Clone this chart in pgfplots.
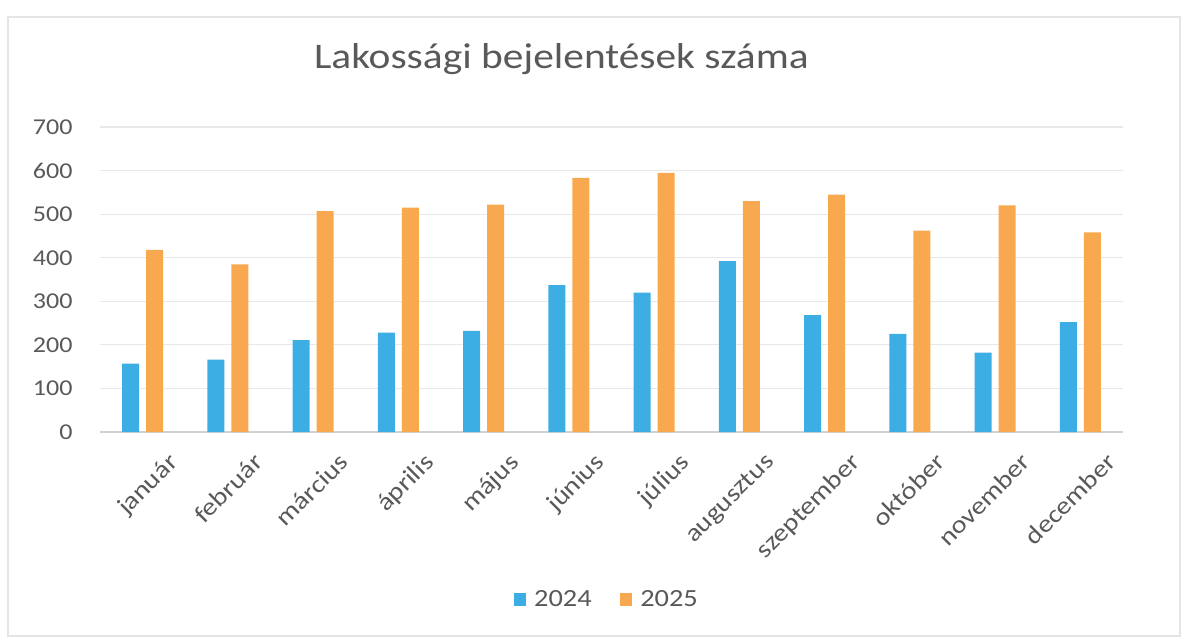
\documentclass[border=0pt]{standalone}
\usepackage{fontspec}
\setmainfont[FakeStretch=1.15]{Carlito}
\usepackage{pgfplots}
\pgfplotsset{compat=1.18}
\definecolor{cblue}{HTML}{3DAEE3}
\definecolor{corange}{HTML}{F8A94F}
\definecolor{tgray}{HTML}{595959}
\definecolor{ggray}{HTML}{E8E8E8}
\begin{document}
\begin{tikzpicture}
\useasboundingbox (0pt,0pt) rectangle (888pt,-479.25pt);
\draw[black!10, line width=0.8pt] (6pt,-12.75pt) rectangle (885pt,-477pt);
\node[anchor=base, text=tgray, font=\fontsize{27}{31}\selectfont] at (421pt,-51pt) {Lakossági bejelentések száma};
\begin{axis}[
  at={(75pt,-324pt)}, anchor=south west,
  scale only axis, width=767.25pt, height=228.75pt,
  ybar=5.25pt, bar width=12.75pt,
  xmin=-0.5, xmax=11.5, ymin=0, ymax=700,
  ytick={0,100,...,700},
  xtick={0,...,11},
  xticklabels={január,február,március,április,május,június,július,augusztus,szeptember,október,november,december},
  axis line style={draw=none},
  major tick length=0pt,
  ymajorgrids, grid style={ggray, line width=0.8pt},
  extra y ticks={0}, extra y tick style={grid style={black!18, line width=0.8pt}, yticklabels={}},
  yticklabel style={text=tgray, font=\fontsize{17}{19}\selectfont, xshift=-17pt},
  /pgf/number format/assume math mode=true,
  xticklabel style={text=tgray, font=\fontsize{18.5}{20}\selectfont, rotate=45, anchor=north east, xshift=6pt, yshift=-20pt},
  legend style={at={(0.4956,-0.550)}, anchor=center, draw=none, legend columns=2,
    font=\fontsize{18.5}{20}\selectfont, text=tgray,
    /tikz/every odd column/.append style={column sep=4pt},
    /tikz/every even column/.append style={column sep=19pt}},
  legend image code/.code={\fill[#1] (0pt,-4.5pt) rectangle (9.5pt,5pt);},
  clip=false,
]
\addplot[fill=cblue, draw=none] coordinates {(0,157) (1,166) (2,211) (3,228) (4,232) (5,337) (6,320) (7,392) (8,268) (9,225) (10,182) (11,252)};
\addplot[fill=corange, draw=none] coordinates {(0,418) (1,385) (2,507) (3,515) (4,522) (5,583) (6,595) (7,530) (8,545) (9,462) (10,520) (11,458)};
\legend{2024,2025}
\end{axis}
\end{tikzpicture}
\end{document}
